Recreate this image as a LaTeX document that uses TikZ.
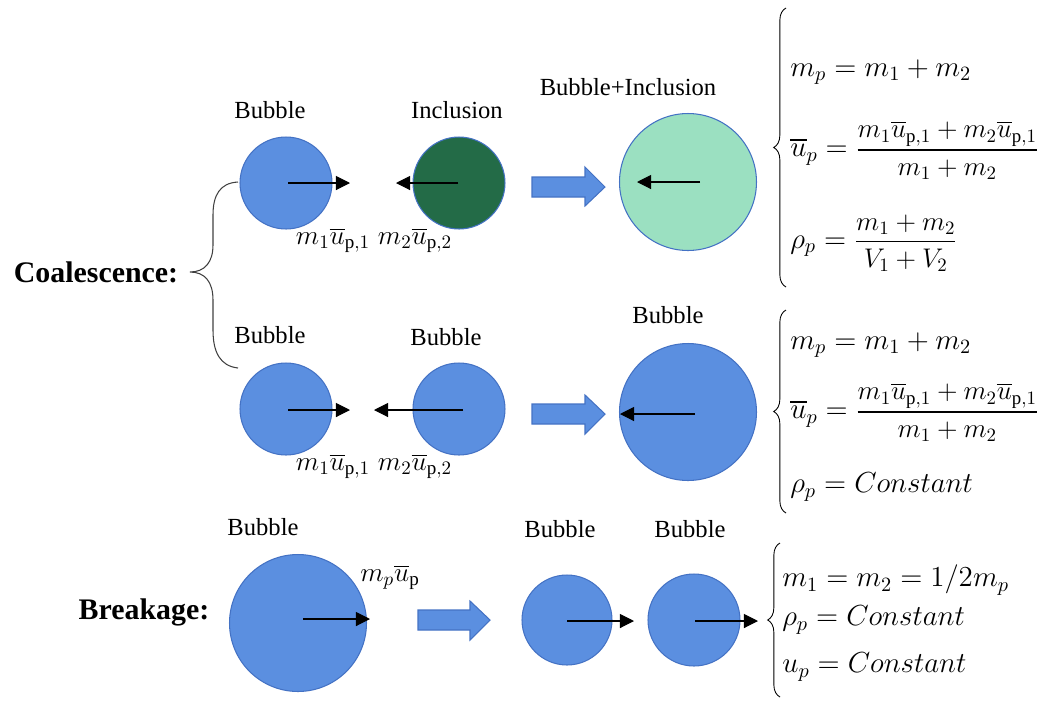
\RequirePackage{fix-cm}
\documentclass[tikz,border=0pt]{standalone}
\usepackage{amsmath}
\usepackage{graphicx}
\usepackage{fontspec}
\setmainfont{Liberation Serif}
\usetikzlibrary{arrows.meta,decorations.pathreplacing}
\definecolor{bblue}{RGB}{91,143,224}
\definecolor{bedge}{RGB}{68,114,196}
\definecolor{dgreen}{RGB}{35,107,71}
\definecolor{lgreen}{RGB}{155,224,193}
\tikzset{
  ball/.style={circle,draw=bedge,line width=0.6pt,inner sep=0pt,minimum size=#1},
  lbl/.style={font=\fontsize{14}{16}\selectfont,inner sep=0pt},
  ttl/.style={font=\fontsize{17}{19}\selectfont\bfseries,inner sep=0pt},
  mlbl/.style={font=\fontsize{15.5}{18}\selectfont,inner sep=0pt},
  vel/.style={-{Triangle[length=8pt,width=8pt]},line width=0.6pt},
  eq/.style={anchor=west,font=\fontsize{16.5}{19}\selectfont,inner sep=0pt},
  cbrace/.style={decorate,decoration={brace,amplitude=7pt},line width=0.5pt},
  barrow/.style={fill=bblue,draw=bedge,line width=0.6pt}
}
\newcommand{\ub}{\overline{u}}
\newcommand{\fr}[2]{\scalebox{0.93}{$\dfrac{#1}{#2}$}}
\begin{document}
\begin{tikzpicture}[x=0.02cm,y=-0.02cm]
\useasboundingbox (0,0) rectangle (1039,704);

% ---------- Row 1 ----------
\node[lbl] (l11) at (270,110) {Bubble};
\node[lbl] (l12) at (457,110) {Inclusion};
\node[lbl] (l13) at (628,87) {Bubble+Inclusion};
\node[ball=1.84cm,fill=bblue] (b11) at (286,183) {};
\node[ball=1.84cm,fill=dgreen] (b12) at (459,183) {};
\node[ball=2.74cm,fill=lgreen] (b13) at (688,182) {};
\coordinate (s11) at (288,183);
\coordinate (t11) at (350,183);
\coordinate (s12) at (458,183);
\coordinate (t12) at (396,183);
\coordinate (s13) at (700,182);
\coordinate (t13) at (637,182);
\draw[vel] (s11) -- (t11);
\draw[vel] (s12) -- (t12);
\draw[vel] (s13) -- (t13);
\node[mlbl] (m11) at (333,240) {$m_1\ub_{\mathrm{p},1}$};
\node[mlbl] (m12) at (415,240) {$m_2\ub_{\mathrm{p},2}$};
\draw[barrow] (532,177) -- (585,177) -- (585,167) -- (605,187) -- (585,206) -- (585,197) -- (532,197) -- cycle;

\draw[cbrace] (786,287) -- (786,8);
\node[eq] (e11) at (790,72) {$m_p = m_1 + m_2$};
\node[eq] (e12) at (790,150) {$\ub_p = {}$\fr{m_1\ub_{\mathrm{p},1} + m_2\ub_{\mathrm{p},1}}{m_1 + m_2}};
\node[eq] (e13) at (790,243) {$\rho_p = {}$\fr{m_1 + m_2}{V_1 + V_2}};

% coalescence brace
\node[ttl] (coal) at (96,272) {Coalescence:};
\draw[line width=0.6pt,black!75] (238,182) .. controls (220,183) and (213,195) .. (213,215) -- (213,245) .. controls (213,262) and (205,272) .. (190,272) .. controls (205,272) and (213,282) .. (213,300) -- (213,330) .. controls (213,352) and (220,366) .. (238,368);

% ---------- Row 2 ----------
\node[lbl] (l21) at (270,335) {Bubble};
\node[lbl] (l22) at (446,337) {Bubble};
\node[lbl] (l23) at (668,315) {Bubble};
\node[ball=1.84cm,fill=bblue] (b21) at (286,409) {};
\node[ball=1.84cm,fill=bblue] (b22) at (459,409) {};
\node[ball=2.74cm,fill=bblue] (b23) at (688,412) {};
\coordinate (s21) at (288,410);
\coordinate (t21) at (350,410);
\coordinate (s22) at (463,410);
\coordinate (t22) at (374,410);
\coordinate (s23) at (695,414);
\coordinate (t23) at (620,414);
\draw[vel] (s21) -- (t21);
\draw[vel] (s22) -- (t22);
\draw[vel] (s23) -- (t23);
\node[mlbl] (m21) at (333,466) {$m_1\ub_{\mathrm{p},1}$};
\node[mlbl] (m22) at (415,466) {$m_2\ub_{\mathrm{p},2}$};
\draw[barrow] (532,404) -- (585,404) -- (585,395) -- (605,414) -- (585,434) -- (585,424) -- (532,424) -- cycle;

\draw[cbrace] (786,513) -- (786,310);
\node[eq] (e21) at (790,345) {$m_p = m_1 + m_2$};
\node[eq] (e22) at (790,412) {$\ub_p = {}$\fr{m_1\ub_{\mathrm{p},1} + m_2\ub_{\mathrm{p},1}}{m_1 + m_2}};
\node[eq] (e23) at (790,487) {$\rho_p = Constant$};

% ---------- Row 3 ----------
\node[ttl] (brk) at (144,612) {Breakage:};
\node[lbl] (l31) at (263,527) {Bubble};
\node[lbl] (l32) at (560,529) {Bubble};
\node[lbl] (l33) at (690,529) {Bubble};
\node[ball=2.74cm,fill=bblue] (b31) at (298,623) {};
\node[ball=1.80cm,fill=bblue] (b32) at (567,620) {};
\node[ball=1.84cm,fill=bblue] (b33) at (694,620) {};
\coordinate (s31) at (303,619);
\coordinate (t31) at (370,619);
\coordinate (s32) at (567,621);
\coordinate (t32) at (634,621);
\coordinate (s33) at (695,621);
\coordinate (t33) at (758,621);
\draw[vel] (s31) -- (t31);
\draw[vel] (s32) -- (t32);
\draw[vel] (s33) -- (t33);
\node[mlbl] (m31) at (390,577) {$m_p\ub_{\mathrm{p}}$};
\draw[barrow] (418,610) -- (470,610) -- (470,601) -- (490,620) -- (470,640) -- (470,630) -- (418,630) -- cycle;

\draw[cbrace] (780,697) -- (780,543);
\node[eq] (e31) at (782,580) {$m_1 = m_2 = 1/2m_p$};
\node[eq] (e32) at (782,620) {$\rho_p = Constant$};
\node[eq] (e33) at (782,667) {$u_p = Constant$};
\end{tikzpicture}
\end{document}
